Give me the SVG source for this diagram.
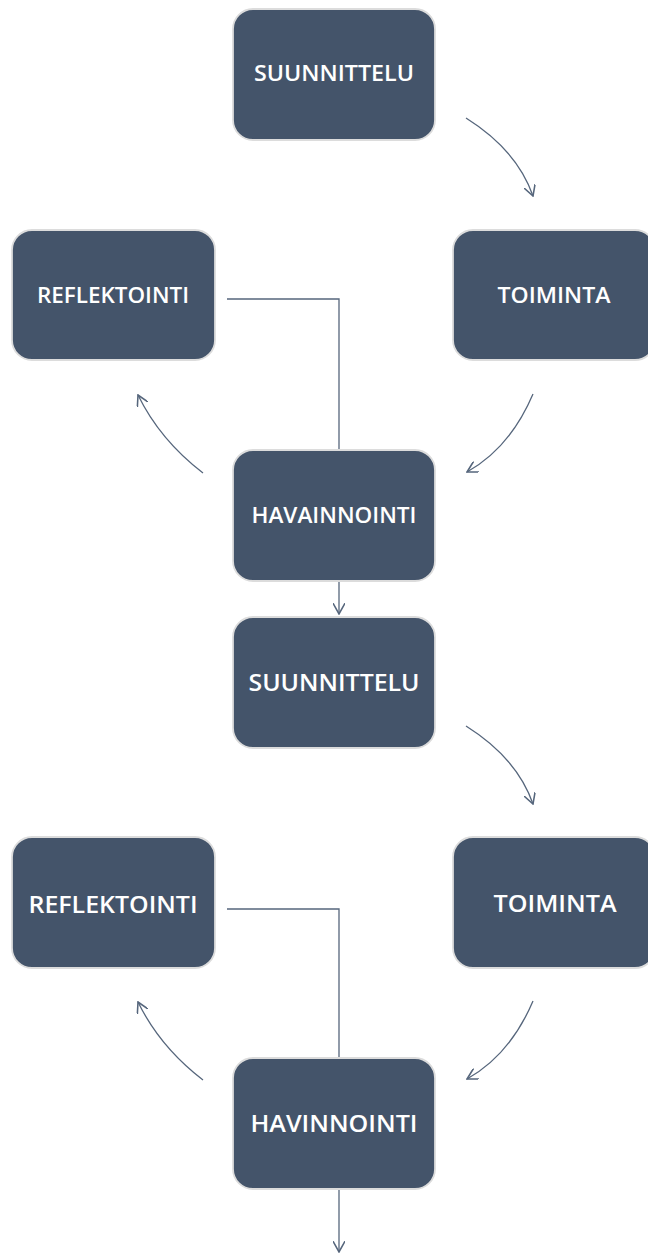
<svg xmlns="http://www.w3.org/2000/svg" width="648" height="1255" viewBox="0 0 648 1255">
<defs>
<marker id="v" viewBox="0 0 10 10" refX="9" refY="5" markerWidth="12" markerHeight="12" markerUnits="userSpaceOnUse" orient="auto">
<path d="M0,0 L9,5 L0,10" fill="none" stroke="#56667c" stroke-width="1.3"/>
</marker>
</defs>
<style>
.box{fill:#44546a;stroke:#dcdcdc;stroke-width:1.8}
.t{fill:#ffffff;font-family:"Open Sans","Liberation Sans",sans-serif;font-weight:600;text-anchor:middle}
.s{font-size:22px}
.b{font-size:24px}
.c{fill:none;stroke:#56667c;stroke-width:1.3}
</style>
<rect width="648" height="1255" fill="#ffffff"/>
<g id="connectors">
<path class="c" d="M466,118 Q517,150 533,196" marker-end="url(#v)"/>
<path class="c" d="M533,394 Q510,448 467,472" marker-end="url(#v)"/>
<path class="c" d="M203,473 Q160,440 138,395" marker-end="url(#v)"/>
<path class="c" d="M227,299 H339 V450"/>
<path class="c" d="M339,582 V614" marker-end="url(#v)"/>
<path class="c" d="M466,726 Q517,758 533,804" marker-end="url(#v)"/>
<path class="c" d="M533,1001 Q510,1055 467,1079" marker-end="url(#v)"/>
<path class="c" d="M203,1080 Q160,1047 138,1002" marker-end="url(#v)"/>
<path class="c" d="M227,909 H339 V1058"/>
<path class="c" d="M339,1189 V1252" marker-end="url(#v)"/>
</g>
<g id="n1"><rect class="box" x="233" y="9" width="202" height="131" rx="20"/><text class="t s" x="334" y="81" textLength="160" lengthAdjust="spacingAndGlyphs">SUUNNITTELU</text></g>
<g id="n2"><rect class="box" x="12" y="230" width="203" height="130" rx="20"/><text class="t s" x="113" y="303" textLength="152" lengthAdjust="spacingAndGlyphs">REFLEKTOINTI</text></g>
<g id="n3"><rect class="box" x="453" y="230" width="202" height="130" rx="20"/><text class="t s" x="554" y="303" textLength="113" lengthAdjust="spacingAndGlyphs">TOIMINTA</text></g>
<g id="n4"><rect class="box" x="233" y="450" width="202" height="131" rx="20"/><text class="t s" x="334" y="523" textLength="165" lengthAdjust="spacingAndGlyphs">HAVAINNOINTI</text></g>
<g id="n5"><rect class="box" x="233" y="617" width="202" height="131" rx="20"/><text class="t b" x="334" y="691" textLength="171" lengthAdjust="spacingAndGlyphs">SUUNNITTELU</text></g>
<g id="n6"><rect class="box" x="12" y="837" width="203" height="131" rx="20"/><text class="t b" x="113" y="913" textLength="169" lengthAdjust="spacingAndGlyphs">REFLEKTOINTI</text></g>
<g id="n7"><rect class="box" x="453" y="837" width="202" height="131" rx="20"/><text class="t b" x="555" y="912" textLength="123" lengthAdjust="spacingAndGlyphs">TOIMINTA</text></g>
<g id="n8"><rect class="box" x="233" y="1058" width="202" height="131" rx="20"/><text class="t b" x="334" y="1132" textLength="167" lengthAdjust="spacingAndGlyphs">HAVINNOINTI</text></g>
</svg>
